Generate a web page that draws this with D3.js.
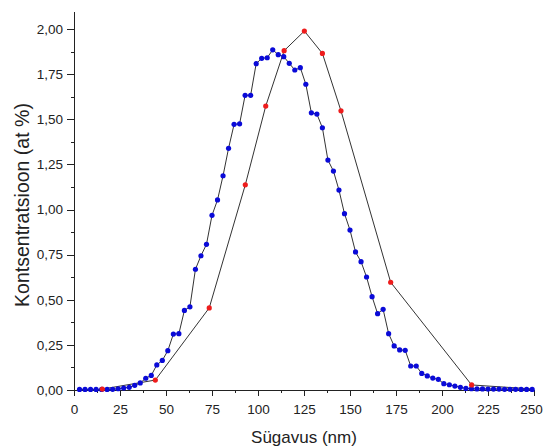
<!DOCTYPE html>
<meta charset="utf-8">
<title>Kontsentratsioon vs sügavus</title>
<style>
body {
  margin: 0;
  background: #fff;
}

text {
  font-family: "Liberation Sans", Arial, sans-serif;
  fill: #222;
}

.axis path, .axis line {
  stroke: #222;
  stroke-width: 1px;
  shape-rendering: crispEdges;
}
</style>
<body>
<div id="chart"></div>

<script src="https://d3js.org/d3.v7.min.js"></script>
<script>
// Measured profile (blue) - every 3 nm
const blueDepth = d3.range(3, 250, 3);
const blueConc = [
  0.003, 0.003, 0.003, 0.003, 0.003, 0.003, 0.004, 0.007, 0.011, 0.015,
  0.026, 0.039, 0.065, 0.081, 0.139, 0.164, 0.218, 0.310, 0.312, 0.441,
  0.461, 0.669, 0.744, 0.807, 0.968, 1.053, 1.187, 1.339, 1.472, 1.475,
  1.633, 1.633, 1.808, 1.838, 1.841, 1.885, 1.858, 1.847, 1.810, 1.773,
  1.786, 1.694, 1.536, 1.529, 1.453, 1.274, 1.213, 1.108, 0.977, 0.886,
  0.765, 0.711, 0.626, 0.517, 0.423, 0.447, 0.312, 0.244, 0.222, 0.220,
  0.133, 0.133, 0.092, 0.078, 0.066, 0.059, 0.035, 0.029, 0.022, 0.015,
  0.009, 0.007, 0.006, 0.006, 0.005, 0.005, 0.005, 0.004, 0.004, 0.004,
  0.003, 0.003, 0.003
];

// Simulated profile (red)
const redDepth = [15.4, 44.2, 73.5, 93.1, 104.2, 114.2, 125.2, 135, 145.1, 172.1, 216.1, 250];
const redConc = [0.005, 0.055, 0.455, 1.137, 1.573, 1.880, 1.989, 1.865, 1.547, 0.597, 0.028, 0.005];

const xTicks = [0, 25, 50, 75, 100, 125, 150, 175, 200, 225, 250];
const yTicks = [0, 0.25, 0.5, 0.75, 1.0, 1.25, 1.5, 1.75, 2.0];

const width = 544;
const height = 448;
const margin = {top: 11, right: 10, bottom: 58, left: 74};

const svg = d3.select("#chart")
  .append("svg")
    .attr("width", width)
    .attr("height", height);

const x = d3.scaleLinear()
    .domain([0, 250])
    .range([margin.left, width - margin.right]);

const y = d3.scaleLinear()
    .domain([0, 2.1])
    .range([height - margin.bottom, margin.top]);

const comma = d3.format(".2f");
const fmt = v => comma(v).replace(".", ",");

// minor ticks first, then major axes on top
svg.append("g")
    .attr("class", "axis")
    .attr("transform", `translate(0,${y(0)})`)
    .call(d3.axisBottom(x).tickValues(d3.range(12.5, 250, 25)).tickSize(3).tickFormat(""))
    .call(g => g.select(".domain").remove());

svg.append("g")
    .attr("class", "axis")
    .attr("transform", `translate(${x(0)},0)`)
    .call(d3.axisLeft(y).tickValues(d3.range(0.125, 2.1, 0.25)).tickSize(3).tickFormat(""))
    .call(g => g.select(".domain").remove());

const xAxis = svg.append("g")
    .attr("class", "axis")
    .attr("transform", `translate(0,${y(0)})`)
    .call(d3.axisBottom(x).tickValues(xTicks).tickSize(6).tickSizeOuter(0).tickPadding(8));

xAxis.selectAll("text")
    .style("font-size", "13.5px")
    .attr("dx", d => d === 250 ? -3 : 0);

const yAxis = svg.append("g")
    .attr("class", "axis")
    .attr("transform", `translate(${x(0)},0)`)
    .call(d3.axisLeft(y).tickValues(yTicks).tickFormat(fmt).tickSize(7).tickSizeOuter(0).tickPadding(4));

yAxis.selectAll("text")
    .style("font-size", "13.5px");

// axis titles
svg.append("text")
    .attr("x", 304)
    .attr("y", 443)
    .attr("text-anchor", "middle")
    .style("font-size", "17px")
    .text("Sügavus (nm)");

svg.append("text")
    .attr("transform", "translate(29,205) rotate(-90)")
    .attr("text-anchor", "middle")
    .style("font-size", "19.5px")
    .text("Kontsentratsioon (at %)");

const line = d3.line()
    .x(d => x(d[0]))
    .y(d => y(d[1]));

const redData = d3.zip(redDepth, redConc);
const blueData = d3.zip(blueDepth, blueConc);

function drawLine(data) {
  svg.append("path")
      .datum(data)
      .attr("d", line)
      .attr("fill", "none")
      .attr("stroke", "#333")
      .attr("stroke-width", 1);
}

function drawDots(data, colour) {
  // the end point sitting on the axis end has no visible marker
  svg.append("g")
    .selectAll("circle")
    .data(data.filter(d => d[0] < 250))
    .join("circle")
      .attr("cx", d => x(d[0]))
      .attr("cy", d => y(d[1]))
      .attr("r", 2.6)
      .attr("fill", colour);
}

drawLine(redData);
drawLine(blueData);
drawDots(blueData, "#0a0ad8");
drawDots(redData, "#ee1c1c");
</script>
</body>
</html>
